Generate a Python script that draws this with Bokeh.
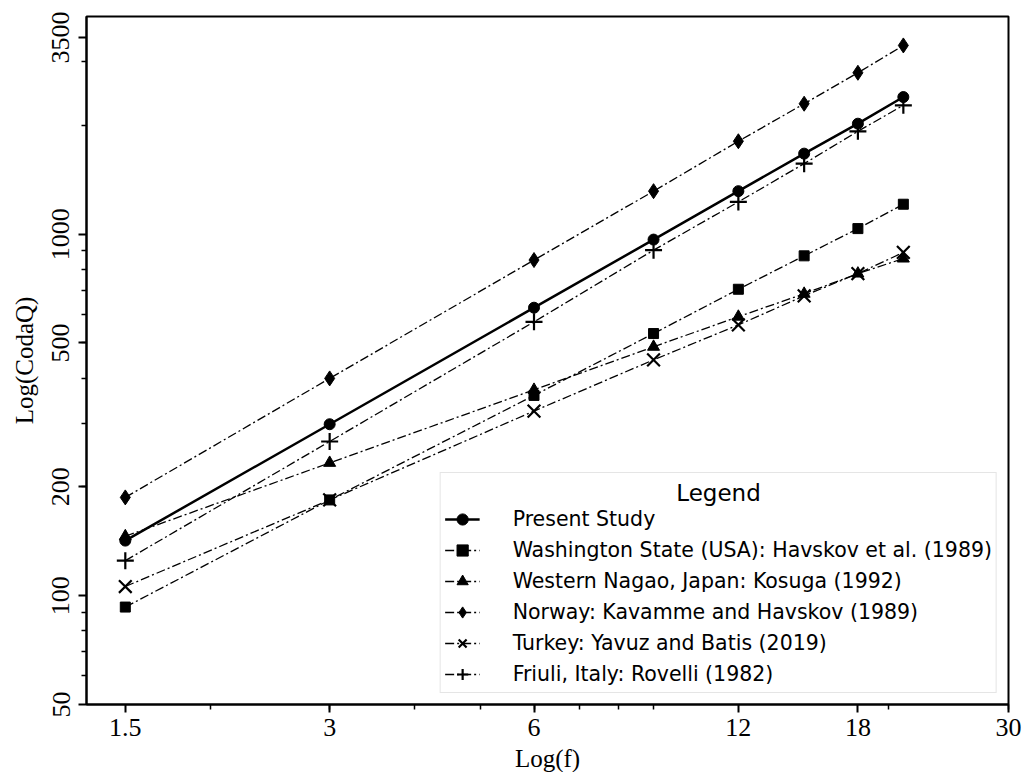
from bokeh.plotting import figure
from bokeh.models import FixedTicker, Legend, LegendItem, Range1d, Label
from bokeh.embed import file_html
from bokeh.resources import INLINE

freq = [1.5, 3, 6, 9, 12, 15, 18, 21]
present_study = [142, 298, 626, 966, 1315, 1670, 2021, 2395]
washington = [93, 184, 358, 531, 704, 871, 1036, 1210]
nagao = [146, 233, 371, 488, 591, 684, 778, 856]
norway = [187, 399, 848, 1315, 1807, 2295, 2795, 3327]
turkey = [106, 184, 324, 449, 561, 675, 778, 890]
friuli = [125, 267, 572, 903, 1228, 1567, 1925, 2272]

labels = [
    "Present Study",
    "Washington State (USA): Havskov et al. (1989)",
    "Western Nagao, Japan: Kosuga (1992)",
    "Norway: Kavamme and Havskov (1989)",
    "Turkey: Yavuz and Batis (2019)",
    "Friuli, Italy: Rovelli (1982)",
]

x_ticks = [1.5, 3, 6, 12, 18, 30]
x_minor = [2, 3, 4, 5, 6, 7, 8, 9, 20, 30]
y_ticks = [50, 100, 200, 500, 1000, 3500]
y_minor = [60, 70, 80, 90, 200, 300, 400, 500, 600, 700, 800, 900, 2000, 3000]

SERIF = "Liberation Serif"
SANS = "DejaVu Sans"

p = figure(
    x_axis_type="log", y_axis_type="log",
    x_range=Range1d(1.315, 30), y_range=Range1d(50, 4000),
    frame_width=922, frame_height=688,
    min_border_left=86, min_border_right=14, min_border_top=16, min_border_bottom=69,
    output_backend="svg", toolbar_location=None,
    background_fill_color="white", border_fill_color="white",
)
p.grid.visible = False
p.outline_line_color = "black"
p.outline_line_width = 2

p.xaxis.ticker = FixedTicker(ticks=x_ticks, minor_ticks=x_minor)
p.xaxis.major_label_overrides = {t: ("%g" % t) for t in x_ticks}
p.yaxis.ticker = FixedTicker(ticks=y_ticks, minor_ticks=y_minor)
p.yaxis.major_label_overrides = {t: ("%g" % t) for t in y_ticks}
p.yaxis.major_label_orientation = "vertical"

for ax in (p.xaxis, p.yaxis):
    ax.axis_line_width = 2
    ax.axis_line_color = "black"
    ax.major_tick_line_width = 2
    ax.minor_tick_line_width = 1.5
    ax.major_tick_in = 0
    ax.major_tick_out = 8
    ax.minor_tick_in = 0
    ax.minor_tick_out = 5
    ax.major_label_text_font = SERIF
    ax.major_label_text_font_size = "26px"
    ax.major_label_text_color = "black"
    ax.axis_label_text_font = SERIF
    ax.axis_label_text_font_size = "25px"
    ax.axis_label_text_font_style = "normal"
    ax.axis_label_text_color = "black"

p.xaxis.axis_label = "Log(f)"
p.yaxis.axis_label = "Log(CodaQ)"
p.xaxis.major_label_standoff = 6
p.xaxis.axis_label_standoff = 6
p.yaxis.major_label_standoff = 9
p.yaxis.axis_label_standoff = 12

DASH = "9 3 2 3"
series = [
    (present_study, "circle", 11, "solid", 2.5),
    (washington, "square", 10, DASH, 1.3),
    (nagao, "triangle", 12, DASH, 1.3),
    (norway, "diamond", 15, DASH, 1.3),
    (turkey, "x", 18, DASH, 1.3),
    (friuli, "cross", 17, DASH, 1.3),
]

items = []
for (vals, marker, size, dash, lw), lab in zip(series, labels):
    lr = p.line(freq, vals, line_color="black", line_width=lw, line_dash=dash)
    if marker in ("x", "cross"):
        sr = p.scatter(freq, vals, marker=marker, size=size, line_color="black", line_width=2.2)
    else:
        sr = p.scatter(freq, vals, marker=marker, size=size, fill_color="black", line_color="black")
    items.append(LegendItem(label=lab, renderers=[lr, sr]))

legend = Legend(
    items=items, location="bottom_right", title=" ",
    margin=11, padding=4, spacing=3,
    glyph_width=35, glyph_height=28, label_height=28, label_standoff=33,
    label_text_font=SANS, label_text_font_size="20.5px", label_text_color="black",
    title_text_font=SANS, title_text_font_size="23px", title_text_color="black",
    title_text_font_style="normal", title_standoff=2,
    border_line_color="#cccccc", border_line_width=1.5,
    background_fill_color="white", background_fill_alpha=0.0,
)
p.add_layout(legend)

# legend title, centred over the legend box (screen units relative to the frame)
p.add_layout(Label(
    x=632, y=212, x_units="screen", y_units="screen", text="Legend",
    text_align="center", text_baseline="middle",
    text_font=SANS, text_font_size="23px", text_color="black",
))

open("out.html", "w").write(file_html(p, INLINE))
